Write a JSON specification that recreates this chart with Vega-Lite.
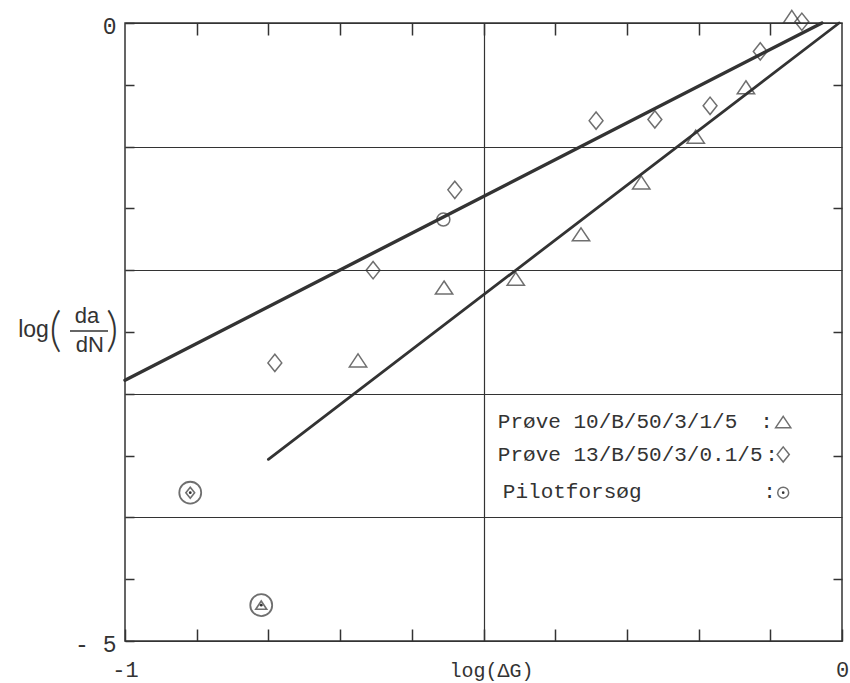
{
  "$schema": "https://vega.github.io/schema/vega-lite/v6.json",
  "width": 717,
  "height": 618,
  "autosize": {"type": "none"},
  "padding": {"left": 125, "top": 23, "right": 8, "bottom": 42},
  "background": "white",
  "config": {"view": {"stroke": "#333", "strokeWidth": 1.5}, "font": "Liberation Mono"},
  "datasets": {
    "fits": [
      {"fit": "A", "x": -1, "y": -2.89},
      {"fit": "A", "x": -0.028, "y": 0},
      {"fit": "B", "x": -0.8, "y": -3.53},
      {"fit": "B", "x": -0.004, "y": 0}
    ],
    "points": [
      {"series": "Prøve 10/B/50/3/1/5", "x": -0.070, "y": 0.05, "circled": false},
      {"series": "Prøve 10/B/50/3/1/5", "x": -0.134, "y": -0.52, "circled": false},
      {"series": "Prøve 10/B/50/3/1/5", "x": -0.204, "y": -0.92, "circled": false},
      {"series": "Prøve 10/B/50/3/1/5", "x": -0.280, "y": -1.29, "circled": false},
      {"series": "Prøve 10/B/50/3/1/5", "x": -0.364, "y": -1.71, "circled": false},
      {"series": "Prøve 10/B/50/3/1/5", "x": -0.455, "y": -2.07, "circled": false},
      {"series": "Prøve 10/B/50/3/1/5", "x": -0.555, "y": -2.14, "circled": false},
      {"series": "Prøve 10/B/50/3/1/5", "x": -0.675, "y": -2.73, "circled": false},
      {"series": "Prøve 10/B/50/3/1/5", "x": -0.810, "y": -4.71, "circled": true},
      {"series": "Prøve 13/B/50/3/0.1/5", "x": -0.056, "y": 0.01, "circled": false},
      {"series": "Prøve 13/B/50/3/0.1/5", "x": -0.114, "y": -0.23, "circled": false},
      {"series": "Prøve 13/B/50/3/0.1/5", "x": -0.184, "y": -0.67, "circled": false},
      {"series": "Prøve 13/B/50/3/0.1/5", "x": -0.261, "y": -0.78, "circled": false},
      {"series": "Prøve 13/B/50/3/0.1/5", "x": -0.343, "y": -0.79, "circled": false},
      {"series": "Prøve 13/B/50/3/0.1/5", "x": -0.540, "y": -1.35, "circled": false},
      {"series": "Prøve 13/B/50/3/0.1/5", "x": -0.654, "y": -2.00, "circled": false},
      {"series": "Prøve 13/B/50/3/0.1/5", "x": -0.791, "y": -2.75, "circled": false},
      {"series": "Prøve 13/B/50/3/0.1/5", "x": -0.909, "y": -3.80, "circled": true},
      {"series": "Pilotforsøg", "x": -0.556, "y": -1.59, "circled": false}
    ],
    "legendText": [
      {"t": "Prøve 10/B/50/3/1/5", "x": -0.480, "y": -3.277},
      {"t": "Prøve 13/B/50/3/0.1/5", "x": -0.480, "y": -3.544},
      {"t": "Pilotforsøg", "x": -0.473, "y": -3.843},
      {"t": ":", "x": -0.114, "y": -3.277},
      {"t": ":", "x": -0.107, "y": -3.544},
      {"t": ":", "x": -0.110, "y": -3.843}
    ],
    "legendSymbols": [
      {"series": "Prøve 10/B/50/3/1/5", "x": -0.082, "y": -3.228},
      {"series": "Prøve 13/B/50/3/0.1/5", "x": -0.082, "y": -3.491},
      {"series": "Pilotforsøg", "x": -0.082, "y": -3.80}
    ],
    "ytitleWord": [
      {"t": "log", "x": -1.149, "y": -2.540}
    ],
    "ytitleFrac": [
      {"t": "da", "x": -1.053, "y": -2.427},
      {"t": "dN", "x": -1.049, "y": -2.662}
    ],
    "ytitleParens": [
      {"t": "(", "x": -1.097, "y": -2.61},
      {"t": ")", "x": -1.018, "y": -2.61}
    ],
    "ytitleBar": [
      {"x": -1.0767, "x2": -1.0237, "y": -2.492}
    ]
  },
  "layer": [
    {
      "data": {"name": "fits"},
      "mark": {"type": "line", "color": "#333", "strokeCap": "round"},
      "encoding": {
        "x": {
          "field": "x", "type": "quantitative",
          "scale": {"domain": [-1, 0], "nice": false, "zero": false},
          "axis": {
            "orient": "bottom",
            "values": [-1, -0.9, -0.8, -0.7, -0.6, -0.5, -0.4, -0.3, -0.2, -0.1, 0],
            "domain": false, "grid": false,
            "tickSize": -12, "tickColor": "#333", "tickWidth": 1.5,
            "labelExpr": "datum.value == -1 ? '-1' : datum.value == 0 ? '0' : ''",
            "labelFont": "Liberation Mono", "labelFontSize": 22, "labelColor": "#333",
            "labelBaseline": "alphabetic", "labelPadding": 47, "labelFlush": false, "labelOverlap": false,
            "title": "log(ΔG)", "titleFont": "Liberation Mono", "titleFontSize": 20,
            "titleFontWeight": "normal", "titleColor": "#333",
            "titleX": 366, "titleY": 35, "titleBaseline": "alphabetic"
          }
        },
        "y": {
          "field": "y", "type": "quantitative",
          "scale": {"domain": [-5, 0], "nice": false, "zero": false},
          "axis": {
            "orient": "left",
            "values": [-5, -4.5, -4, -3.5, -3, -2.5, -2, -1.5, -1, -0.5, 0],
            "domain": false,
            "grid": true, "gridColor": "#333", "gridWidth": 1.2,
            "gridOpacity": {"condition": {"test": "datum.value % 1 == 0", "value": 1}, "value": 0},
            "tickSize": -9, "tickColor": "#333", "tickWidth": 1.5,
            "labelExpr": "datum.value == 0 ? '0' : datum.value == -5 ? '- 5' : ''",
            "labelFont": "Liberation Mono", "labelFontSize": 23, "labelColor": "#333",
            "labelBaseline": "middle", "labelOffset": 3, "labelPadding": 18, "labelFlush": false, "labelOverlap": false,
            "title": null
          }
        },
        "detail": {"field": "fit", "type": "nominal"},
        "strokeWidth": {"field": "fit", "type": "ordinal", "scale": {"domain": ["A", "B"], "range": [3.4, 2.8]}, "legend": null}
      }
    },
    {
      "data": {"name": "points"},
      "transform": [{"filter": "!datum.circled"}],
      "mark": {"type": "point", "filled": false, "stroke": "#333", "strokeWidth": 1.5},
      "encoding": {
        "x": {
          "field": "x", "type": "quantitative",
          "axis": {
            "orient": "top",
            "values": [-0.9, -0.8, -0.7, -0.6, -0.5, -0.4, -0.3, -0.2, -0.1],
            "domain": false, "labels": false, "title": null,
            "tickSize": -12, "tickColor": "#333", "tickWidth": 1.5,
            "grid": true, "gridColor": "#333", "gridWidth": 1.2,
            "gridOpacity": {"condition": {"test": "abs(datum.value + 0.5) < 0.01", "value": 1}, "value": 0}
          }
        },
        "y": {
          "field": "y", "type": "quantitative",
          "axis": {
            "orient": "right",
            "values": [-4.5, -3.5, -2.5, -1.5, -0.5],
            "domain": false, "labels": false, "title": null, "grid": false,
            "tickSize": -9, "tickColor": "#333", "tickWidth": 1.5
          }
        },
        "shape": {
          "field": "series", "type": "nominal",
          "scale": {
            "domain": ["Prøve 10/B/50/3/1/5", "Prøve 13/B/50/3/0.1/5", "Pilotforsøg"],
            "range": ["M0,-0.75L1,0.75L-1,0.75Z", "M0,-1L0.8,0L0,1L-0.8,0Z", "circle"]
          },
          "legend": null
        },
        "size": {
          "condition": {"test": "datum.series == 'Pilotforsøg'", "value": 170},
          "value": 300
        }
      }
    },
    {
      "data": {"name": "points"},
      "transform": [{"filter": "datum.circled"}],
      "mark": {"type": "point", "shape": "circle", "filled": false, "stroke": "#333", "strokeWidth": 1.8, "size": 480},
      "encoding": {
        "x": {"field": "x", "type": "quantitative", "axis": null},
        "y": {"field": "y", "type": "quantitative", "axis": null}
      }
    },
    {
      "data": {"name": "points"},
      "transform": [{"filter": "datum.circled"}],
      "mark": {"type": "point", "filled": false, "stroke": "#333", "strokeWidth": 1.6, "size": 120},
      "encoding": {
        "x": {"field": "x", "type": "quantitative", "axis": null},
        "y": {"field": "y", "type": "quantitative", "axis": null},
        "shape": {"field": "series", "type": "nominal", "legend": null}
      }
    },
    {
      "data": {"name": "points"},
      "transform": [{"filter": "datum.circled"}],
      "mark": {"type": "circle", "color": "#333", "opacity": 1, "size": 8},
      "encoding": {
        "x": {"field": "x", "type": "quantitative", "axis": null},
        "y": {"field": "y", "type": "quantitative", "axis": null}
      }
    },
    {
      "data": {"name": "legendText"},
      "mark": {"type": "text", "align": "left", "baseline": "alphabetic", "font": "Liberation Mono", "fontSize": 21, "color": "#333"},
      "encoding": {
        "x": {"field": "x", "type": "quantitative", "axis": null},
        "y": {"field": "y", "type": "quantitative", "axis": null},
        "text": {"field": "t"}
      }
    },
    {
      "data": {"name": "legendSymbols"},
      "mark": {"type": "point", "filled": false, "stroke": "#333", "strokeWidth": 1.5},
      "encoding": {
        "x": {"field": "x", "type": "quantitative", "axis": null},
        "y": {"field": "y", "type": "quantitative", "axis": null},
        "shape": {"field": "series", "type": "nominal", "legend": null},
        "size": {
          "condition": {"test": "datum.series == 'Pilotforsøg'", "value": 120},
          "value": 230
        }
      }
    },
    {
      "data": {"name": "legendSymbols"},
      "transform": [{"filter": "datum.series == 'Pilotforsøg'"}],
      "mark": {"type": "circle", "color": "#333", "opacity": 1, "size": 7},
      "encoding": {
        "x": {"field": "x", "type": "quantitative", "axis": null},
        "y": {"field": "y", "type": "quantitative", "axis": null}
      }
    },
    {
      "data": {"name": "ytitleWord"},
      "mark": {"type": "text", "baseline": "alphabetic", "align": "left", "font": "Liberation Sans", "fontSize": 23, "color": "#333"},
      "encoding": {
        "x": {"field": "x", "type": "quantitative", "axis": null},
        "y": {"field": "y", "type": "quantitative", "axis": null},
        "text": {"field": "t"}
      }
    },
    {
      "data": {"name": "ytitleFrac"},
      "mark": {"type": "text", "baseline": "alphabetic", "align": "center", "font": "Liberation Sans", "fontSize": 22, "color": "#333"},
      "encoding": {
        "x": {"field": "x", "type": "quantitative", "axis": null},
        "y": {"field": "y", "type": "quantitative", "axis": null},
        "text": {"field": "t"}
      }
    },
    {
      "data": {"name": "ytitleParens"},
      "mark": {"type": "text", "baseline": "alphabetic", "align": "center", "font": "Lato", "fontSize": 48, "fontWeight": 300, "color": "#333"},
      "encoding": {
        "x": {"field": "x", "type": "quantitative", "axis": null},
        "y": {"field": "y", "type": "quantitative", "axis": null},
        "text": {"field": "t"}
      }
    },
    {
      "data": {"name": "ytitleBar"},
      "mark": {"type": "rule", "color": "#333", "strokeWidth": 1.3},
      "encoding": {
        "x": {"field": "x", "type": "quantitative", "axis": null},
        "x2": {"field": "x2"},
        "y": {"field": "y", "type": "quantitative", "axis": null}
      }
    }
  ],
  "resolve": {"axis": {"x": "independent", "y": "independent"}}
}
